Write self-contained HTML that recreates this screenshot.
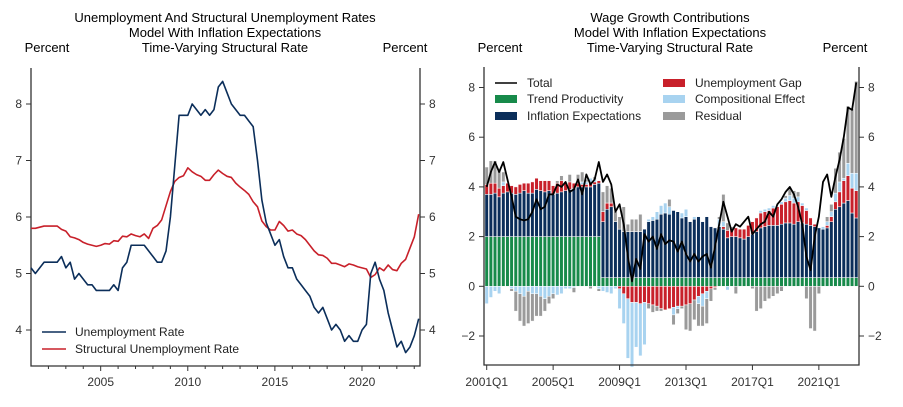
<!DOCTYPE html>
<html><head><meta charset="utf-8"><style>
body{margin:0;background:#fff;}
svg{display:block;font-family:"Liberation Sans",sans-serif;}
</style></head><body>
<svg id="c" width="903" height="407">
<g fill="#000" font-size="13" text-anchor="middle">
<text x="225" y="22">Unemployment And Structural Unemployment Rates</text>
<text x="225" y="37">Model With Inflation Expectations</text>
<text x="225" y="52">Time-Varying Structural Rate</text>
<text x="47" y="52">Percent</text>
<text x="405" y="52">Percent</text>
<text x="670" y="22">Wage Growth Contributions</text>
<text x="670" y="37">Model With Inflation Expectations</text>
<text x="670" y="52">Time-Varying Structural Rate</text>
<text x="500" y="52">Percent</text>
<text x="845" y="52">Percent</text>
</g>
<g id="L"></g><g id="R"></g>
</svg>
<script>
// Left chart data
const ur=[5.1,5.0,5.1,5.2,5.2,5.2,5.2,5.3,5.1,5.2,4.9,5.0,4.9,4.8,4.8,4.7,4.7,4.7,4.7,4.8,4.7,5.1,5.2,5.5,5.5,5.5,5.5,5.4,5.3,5.2,5.2,5.4,6.0,6.9,7.8,7.8,7.8,8.0,7.9,7.8,7.9,7.8,7.9,8.3,8.4,8.2,8.0,7.9,7.8,7.8,7.7,7.6,7.0,6.3,5.9,5.7,5.5,5.6,5.3,5.1,5.1,4.9,4.8,4.7,4.6,4.4,4.3,4.4,4.2,4.0,4.1,4.0,3.8,3.9,3.8,3.8,4.0,4.1,5.0,5.2,4.9,4.7,4.3,4.0,3.7,3.8,3.6,3.7,3.9,4.2];
const sr=[5.8,5.8,5.82,5.84,5.84,5.84,5.84,5.78,5.75,5.65,5.63,5.6,5.55,5.52,5.5,5.48,5.5,5.53,5.52,5.58,5.57,5.66,5.65,5.7,5.67,5.65,5.7,5.62,5.8,5.85,5.95,6.2,6.45,6.63,6.7,6.73,6.87,6.8,6.75,6.72,6.65,6.65,6.75,6.83,6.77,6.72,6.7,6.6,6.53,6.47,6.4,6.27,6.18,5.93,5.83,5.77,5.77,5.92,5.85,5.75,5.77,5.7,5.67,5.6,5.5,5.4,5.33,5.32,5.27,5.18,5.18,5.15,5.12,5.17,5.15,5.12,5.1,5.08,4.93,4.98,5.1,5.05,5.15,5.07,5.05,5.18,5.25,5.45,5.65,6.05];
const leftYTicks=[4,5,6,7,8];
const leftXTicks=[2005,2010,2015,2020];
// Right chart data
const total=[4.0,4.6,5.0,4.6,5.0,4.3,3.6,2.8,2.7,2.65,2.7,3.0,3.5,3.1,3.2,3.7,3.7,4.1,4.0,4.2,3.8,3.9,4.3,3.7,4.5,4.1,4.3,5.0,4.2,4.5,4.1,3.0,3.3,2.5,1.2,0.2,1.1,0.7,2.1,1.8,2.0,1.5,2.1,1.7,1.85,1.8,1.4,1.8,1.3,1.0,1.3,1.0,1.2,1.3,0.75,1.6,2.5,3.4,2.8,2.2,2.5,2.4,2.6,2.8,2.1,2.3,2.5,2.6,3.0,2.8,3.3,3.5,3.8,4.0,3.7,3.2,2.5,1.2,0.65,2.0,2.8,4.2,4.5,3.6,4.4,5.1,6.0,7.2,7.1,8.2];
const trend=[2,2,2,2,2,2,2,2,2,2,2,2,2,2,2,2,2,2,2,2,2,2,2,2,2,2,2,2].concat(new Array(62).fill(0.35));
const blueTop=[3.7,3.7,3.75,3.6,3.75,3.8,3.75,3.7,3.75,3.85,3.75,3.75,3.9,3.85,3.8,3.85,3.7,3.75,3.8,3.85,3.9,3.95,4.0,4.0,4.0,4.0,4.1,4.15,
2.6,3.1,3.2,2.6,2.3,2.2,2.2,2.2,2.2,2.2,2.3,2.6,2.65,2.7,2.9,2.95,2.9,3.05,3.0,
2.75,2.8,2.6,2.7,2.8,2.6,2.8,2.4,2.35,
2.4,2.3,1.95,2.0,2.0,1.95,1.9,2.0,2.1,2.2,2.35,2.4,2.45,2.45,2.45,2.5,2.55,2.55,2.5,2.6,2.55,2.5,2.45,2.4,
2.35,2.3,2.35,2.6,3.1,3.2,3.35,3.45,2.95,2.75];
const gap=[0.4,0.45,0.4,0.35,0.3,0.35,0.3,0.3,0.35,0.3,0.4,0.45,0.45,0.4,0.45,0.4,0.35,0.4,0.45,0.3,0.3,
0.2,0.15,0.1,0.1,0.15,0.1,0.1,
0.4,0.25,0.15,0,-0.1,-0.3,-0.5,
-0.65,-0.65,-0.7,-0.65,-0.7,-0.75,-0.8,-0.9,-0.95,-0.9,-0.85,-0.8,
-0.8,-0.75,-0.7,-0.55,-0.4,-0.3,-0.2,-0.1,-0.05,
0,0.1,0.3,0.3,0.35,0.35,0.4,0.45,0.5,0.55,0.6,0.6,0.6,0.7,0.75,0.8,0.85,0.9,0.85,0.8,0.7,0.55,
0.3,0.1,0,0,0.1,0.2,0.3,0.6,0.9,1.0,1.0,1.1];
const comp=[-0.7,-0.45,-0.2,-0.3,0.15,0,-0.1,-0.2,-0.3,-0.4,-0.2,-0.3,-0.3,-0.4,-0.5,-0.4,-0.3,-0.35,-0.3,-0.1,-0.1,-0.05,0.05,0.1,0.1,0.2,0.1,-0.1,
-0.2,-0.25,-0.3,-0.1,-0.8,-1.2,-2.4,-2.6,-1.8,-2.1,-1.7,0.1,0.15,0.3,0.35,0.4,0.3,-0.3,-0.1,
0.2,0.3,0,0.1,-0.3,-0.5,-0.3,0,0,
0.3,0.2,-0.15,0,0,0,0,0,0,0,0.1,0.1,0.1,0.1,0,0.1,0.15,0.2,0.2,0.2,0.1,0.1,0,0,
0,0.1,0.15,0.2,0.35,0.4,0.1,0.5,0.6,0.7];
const resid=[0.7,0.9,0.9,0.7,0.4,0,-0.1,-0.8,-1.1,-1.2,-1.3,-1.1,-0.9,-0.8,-0.5,-0.3,-0.2,0.1,0.2,0,0.3,-0.2,0.3,0.4,0.1,-0.1,0.1,-0.1,
0.8,0.7,0.6,0.4,0.5,1.0,0.3,0.5,0.5,0.7,0,-0.2,-0.3,-0.2,-0.1,0,0.3,-0.4,-0.2,
-0.1,-1.0,-1.1,-0.8,-0.9,-0.8,-1.0,-0.5,-0.1,
0.1,1.1,0.3,0.1,-0.3,0,0,0,-0.1,-1.0,-0.9,-0.6,-0.5,-0.4,-0.3,-0.2,0.1,0.3,0.3,0.2,0,-0.5,-1.7,-1.8,
-0.3,0,0.2,0.3,1.0,1.2,1.6,2.3,2.6,3.7];
const rightYTicks=[-2,0,2,4,6,8];
const rightXTicks=["2001Q1","2005Q1","2009Q1","2013Q1","2017Q1","2021Q1"];

const NS="http://www.w3.org/2000/svg";
function mk(p,tag,attrs){const e=document.createElementNS(NS,tag);for(const k in attrs)e.setAttribute(k,attrs[k]);p.appendChild(e);return e;}
// ---- Left chart
const L=document.getElementById('L');
const lx0=31,lx1=420,lyTop=68,lyBot=366;
const lxs=i=>lx0+i*(lx1-lx0)/89.3;
const lxy=yr=>lx0+(yr-2001)*17.42;
const lys=v=>330-(v-4)*56.5;
let e;
e=mk(L,'path',{d:`M${lx0},${lyTop}V${lyBot}H${lx1}V${lyTop}`,fill:'none',stroke:'#333','stroke-width':1.3});

leftYTicks.forEach(v=>{const y=lys(v);
 mk(L,'line',{x1:lx0-5,x2:lx0,y1:y,y2:y,stroke:'#333'});mk(L,'line',{x1:lx1,x2:lx1+5,y1:y,y2:y,stroke:'#333'});
 e=mk(L,'text',{x:lx0-9,y:y+4,'text-anchor':'end','font-size':12,fill:'#333'});e.textContent=v;
 
 e=mk(L,'text',{x:lx1+9,y:y+4,'font-size':12,fill:'#333'});e.textContent=v;
 });
for(let yr=2002;yr<=2023;yr++){const x=lxy(yr);mk(L,'line',{x1:x,x2:x,y1:lyBot,y2:lyBot+(yr%5==0?5:3),stroke:'#333'});}
leftXTicks.forEach(yr=>{e=mk(L,'text',{x:lxy(yr),y:386,'text-anchor':'middle','font-size':12,fill:'#333'});e.textContent=yr;
 });
function line(p,arr,xs,ys,col,name,w){e=mk(p,'polyline',{points:arr.map((v,i)=>xs(i)+','+ys(v)).join(' '),fill:'none',stroke:col,'stroke-width':w||1.6,'stroke-linejoin':'round'});
 }
line(L,sr,lxs,lys,'#c8202a','structural-unemployment-line');
line(L,ur,lxs,lys,'#0b2e5a','unemployment-rate-line');
[['Unemployment Rate','#0b2e5a',332],['Structural Unemployment Rate','#c8202a',349]].forEach(([t,c,y])=>{
 e=mk(L,'g',{});
 mk(e,'line',{x1:42,x2:66,y1:y,y2:y,stroke:c,'stroke-width':1.6});
 const tx=mk(e,'text',{x:75,y:y+4,'font-size':12,fill:'#222'});tx.textContent=t;});
// ---- Right chart
const R=document.getElementById('R');
const rx0=484,rx1=859,ryTop=67,ryBot=365;
const rxs=i=>486.7+i*4.152;
const rys=v=>286.3-v*24.85;
const cols={trend:'#178a4a',ie:'#0b2e5a',gap:'#c8202a',comp:'#a8d3f0',resid:'#9a9a9a'};
for(let i=0;i<90;i++){
 const segs=[['trend',trend[i]],['ie',blueTop[i]-trend[i]],['gap',gap[i]],['comp',comp[i]],['resid',resid[i]]];
 let pos=0,neg=0;
 segs.forEach(([k,v])=>{if(v===0)return;let a,b;
  if(v>0){a=pos;b=pos+v;pos=b;}else{a=neg;b=neg+v;neg=b;}
  const y1=rys(Math.max(a,b)),y2=rys(Math.min(a,b));
  e=mk(R,'rect',{x:rxs(i)-1.75,y:y1,width:3.5,height:Math.max(0,y2-y1),fill:cols[k],stroke:'#fff','stroke-width':0.5});
  });
}
line(R,total,rxs,rys,'#000','total-line',1.8);
e=mk(R,'path',{d:`M${rx0},${ryTop}V${ryBot}H${rx1}V${ryTop}`,fill:'none',stroke:'#333','stroke-width':1.3});

rightYTicks.forEach(v=>{const y=rys(v);
 mk(R,'line',{x1:rx0-5,x2:rx0,y1:y,y2:y,stroke:'#333'});mk(R,'line',{x1:rx1,x2:rx1+5,y1:y,y2:y,stroke:'#333'});
 const lab=v<0?'\u2212'+(-v):''+v;
 e=mk(R,'text',{x:rx0-9,y:y+4,'text-anchor':'end','font-size':12,fill:'#333'});e.textContent=lab;
 
 e=mk(R,'text',{x:rx1+9,y:y+4,'font-size':12,fill:'#333'});e.textContent=lab;
 });
rightXTicks.forEach((t,j)=>{const x=rxs(j*16);mk(R,'line',{x1:x,x2:x,y1:ryBot,y2:ryBot+5,stroke:'#333'});
 e=mk(R,'text',{x:x,y:386,'text-anchor':'middle','font-size':12,fill:'#333'});e.textContent=t;
 });
e=mk(R,'rect',{x:490,y:73,width:330,height:52,fill:'#fff'});
[['Total',null,495,83],['Trend Productivity',cols.trend,495,99],['Inflation Expectations',cols.ie,495,116],
 ['Unemployment Gap',cols.gap,663,83],['Compositional Effect',cols.comp,663,99],['Residual',cols.resid,663,116]].forEach(([t,c,x,y])=>{
 e=mk(R,'g',{});
 if(c)mk(e,'rect',{x:x,y:y-4,width:22,height:8,fill:c});else mk(e,'line',{x1:x,x2:x+22,y1:y,y2:y,stroke:'#000','stroke-width':1.6});
 const tx=mk(e,'text',{x:x+32,y:y+4,'font-size':12,fill:'#222'});tx.textContent=t;});
</script>
</body></html>
